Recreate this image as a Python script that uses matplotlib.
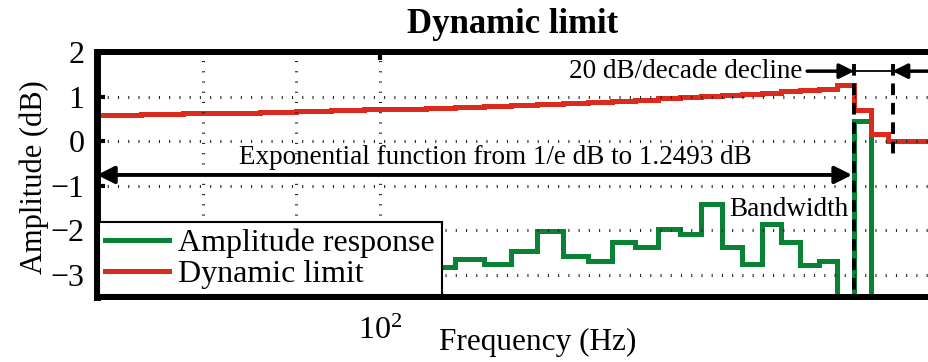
import numpy as np
import matplotlib
matplotlib.use('Agg')
import matplotlib.pyplot as plt
from matplotlib.lines import Line2D
from matplotlib.ticker import NullFormatter

plt.rcParams['font.family'] = 'Liberation Serif'
plt.rcParams['mathtext.fontset'] = 'custom'
plt.rcParams['mathtext.rm'] = 'Liberation Serif'
plt.rcParams['mathtext.it'] = 'Liberation Serif:italic'

# dynamic limit, 4 Hz bins (dB)
limit_edges = [70, 74, 78, 82, 86, 90, 94, 98, 102, 106, 110, 114, 118, 122, 126,
               130, 134, 138, 142, 146, 150, 154, 158, 162, 166, 170, 174, 178, 182,
               186, 190, 200]
limit_db = [0.59, 0.61, 0.62, 0.64, 0.66, 0.67, 0.69, 0.71, 0.73, 0.75, 0.77, 0.79,
            0.81, 0.84, 0.86, 0.88, 0.91, 0.93, 0.96, 0.98, 1.01, 1.04, 1.06, 1.09,
            1.12, 1.15, 1.18, 1.25, 0.69, 0.17, 0.0]

# amplitude response (dB), -5 = below the visible range
resp_edges = [106, 110, 114, 118, 122, 126, 130, 134, 138, 142, 146, 150, 154, 158,
              162, 166, 170, 174, 178, 182, 186, 190]
resp_db = [-2.83, -2.64, -2.76, -2.47, -2.02, -2.59, -2.70, -2.27, -2.37, -1.98, -2.09,
           -1.42, -2.38, -2.76, -1.87, -2.27, -2.79, -2.70, -5.0, 0.44, -5.0]

cutoff_hz = 182
decline_end_hz = 191
yticks = [-3, -2, -1, 0, 1, 2]

GREEN = '#0a8236'
RED = '#dc2a1c'

fig = plt.figure(figsize=(9.29, 3.62), dpi=100)
ax = fig.add_axes([97 / 929, 65 / 362, 1 - 97 / 929, 245 / 362])

ax.stairs(resp_db, resp_edges, baseline=None, color=GREEN, lw=3.6)
ax.stairs(limit_db, limit_edges, baseline=None, color=RED, lw=3.6)

# cutoff markers
ax.plot([cutoff_hz, cutoff_hz], [1.72, -3.6], color='black', lw=2.8,
        linestyle=(0, (3, 2)))
ax.plot([decline_end_hz, decline_end_hz], [1.72, -0.37], color='black', lw=2.8,
        linestyle=(0, (3, 2)))

arrow = dict(arrowstyle='-|>', color='black', lw=2.5, mutation_scale=22,
             shrinkA=0, shrinkB=0)
ax.annotate('', xy=(cutoff_hz, 1.57), xytext=(171.5, 1.57), arrowprops=arrow)
ax.annotate('', xy=(decline_end_hz, 1.57), xytext=(200, 1.57), arrowprops=arrow)
ax.plot([cutoff_hz, decline_end_hz], [1.57, 1.57], color='black', lw=1.3)
ax.annotate('', xy=(181.5, -0.76), xytext=(70, -0.76),
            arrowprops=dict(arrowstyle='<|-|>', color='black', lw=2.8,
                            mutation_scale=26, shrinkA=0, shrinkB=0))

ax.text(147.2, 1.57, '20 dB/decade decline', fontsize=19.5, ha='center', va='center')
ax.text(115.7, -0.37, 'Exponential function from 1/e dB to 1.2493 dB',
        fontsize=19.5, ha='center', va='center')
ax.text(167.6, -1.53, 'Bandwidth', fontsize=19.5, ha='center', va='center')

ax.set_xscale('log')
ax.set_xlim(70, 200)
ax.set_ylim(-3.5, 2)
ax.set_xticks([100])
ax.set_xticklabels([r'$10^2$'])
ax.xaxis.set_minor_formatter(NullFormatter())
ax.set_yticks(yticks)
ax.set_yticklabels([str(v).replace('-', '\u2212') for v in yticks])

ax.grid(True, which='both', axis='x', color='#222222', lw=2.2,
        linestyle=(0, (0.35, 3.0)))
ax.grid(True, which='major', axis='y', color='#222222', lw=2.2,
        linestyle=(0, (0.35, 3.0)))
ax.tick_params(which='major', direction='in', length=6, width=3, top=True,
               right=False, labelsize=23)
ax.tick_params(axis='y', pad=9)
ax.tick_params(axis='x', pad=14)
ax.tick_params(which='minor', length=0)

for side in ['top', 'bottom']:
    ax.spines[side].set_linewidth(4.3)
ax.spines['left'].set_linewidth(5)
ax.spines['right'].set_visible(False)

ax.set_title('Dynamic limit', fontsize=25, fontweight='bold', pad=14)
ax.set_ylabel('Amplitude (dB)', fontsize=22)
ax.yaxis.set_label_coords(-0.058, 0.49)
ax.set_xlabel('Frequency (Hz)', fontsize=22.5)
ax.xaxis.set_label_coords(0.53, -0.125)

handles = [Line2D([], [], color=GREEN, lw=3.6, label='Amplitude response'),
           Line2D([], [], color=RED, lw=3.6, label='Dynamic limit')]
leg = ax.legend(handles=handles, loc='lower left', bbox_to_anchor=(0.0, 0.0),
                borderaxespad=0.05, fancybox=False, framealpha=1, edgecolor='black',
                fontsize=23, handlelength=2.0, handletextpad=0.3, borderpad=0.2,
                labelspacing=0.05)
leg.get_frame().set_linewidth(1.5)

fig.savefig('out.png', dpi=100)
